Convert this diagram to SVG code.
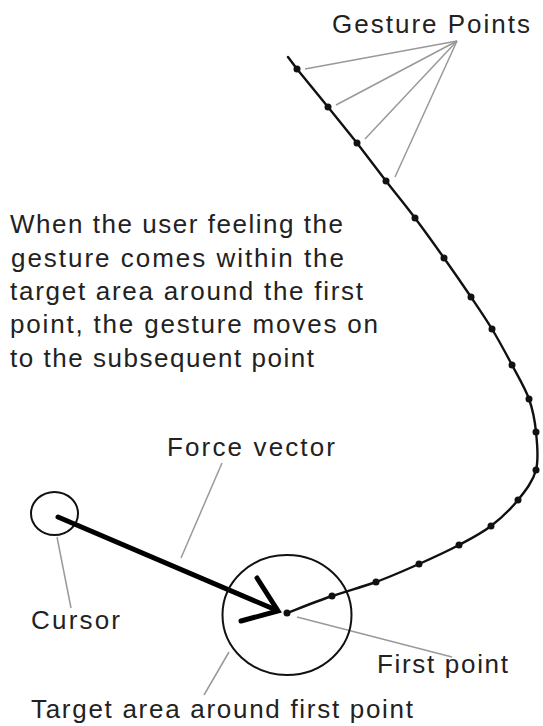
<svg xmlns="http://www.w3.org/2000/svg" width="543" height="726" viewBox="0 0 543 726">
<style>
text{font-family:"Liberation Sans",Arial,sans-serif;font-size:26px;fill:#222}
.lead{stroke:#999;stroke-width:1.5;fill:none}
.dot{fill:#111}
.outline{fill:none;stroke:#111;stroke-width:2}
</style>
<rect width="543" height="726" fill="#fff"/>
<g id="connectors">
<line class="lead" x1="457" y1="41" x2="305" y2="69"/>
<line class="lead" x1="457" y1="41" x2="336" y2="105"/>
<line class="lead" x1="457" y1="41" x2="365" y2="139"/>
<line class="lead" x1="457" y1="41" x2="395" y2="177"/>
<line class="lead" x1="222" y1="463" x2="181" y2="558"/>
<line class="lead" x1="57" y1="537" x2="71" y2="608"/>
<line class="lead" x1="297" y1="617" x2="452" y2="657"/>
<line class="lead" x1="229" y1="652" x2="204" y2="695"/>
</g>
<g id="gesture-curve">
<path fill="none" stroke="#111" stroke-width="2.4" stroke-linecap="round" d="M288,57 L297,69 L328,107 L357,143 L386,181 C395.67,193.5 405.33,205.17 415,218 C424.67,230.83 434.67,244.83 444,258 C453.33,271.17 463,285.17 471,297 C479,308.83 485.17,317.67 492,329 C498.83,340.33 505.83,353.33 512,365 C518.17,376.67 525,387.83 529,399 C533,410.17 534.83,420.17 536,432 C537.17,443.83 539,458.67 536,470 C533,481.33 525.5,490.67 518,500 C510.5,509.33 500.83,518.5 491,526 C481.17,533.5 471,538.67 459,545 C447,551.33 432.83,557.83 419,564 C405.17,570.17 390.5,576.67 376,582 C361.5,587.33 346.83,590.83 332,596 C317.17,601.17 294.5,610.17 287,613"/>
<circle class="dot" cx="297" cy="69" r="3.5"/>
<circle class="dot" cx="328" cy="107" r="3.5"/>
<circle class="dot" cx="357" cy="143" r="3.5"/>
<circle class="dot" cx="386" cy="181" r="3.5"/>
<circle class="dot" cx="415" cy="218" r="3.5"/>
<circle class="dot" cx="444" cy="258" r="3.5"/>
<circle class="dot" cx="471" cy="297" r="3.5"/>
<circle class="dot" cx="492" cy="329" r="3.5"/>
<circle class="dot" cx="512" cy="365" r="3.5"/>
<circle class="dot" cx="529" cy="399" r="3.5"/>
<circle class="dot" cx="536" cy="432" r="3.5"/>
<circle class="dot" cx="536" cy="470" r="3.5"/>
<circle class="dot" cx="518" cy="500" r="3.5"/>
<circle class="dot" cx="491" cy="526" r="3.5"/>
<circle class="dot" cx="459" cy="545" r="3.5"/>
<circle class="dot" cx="419" cy="564" r="3.5"/>
<circle class="dot" cx="376" cy="582" r="3.5"/>
<circle class="dot" cx="332" cy="596" r="3.5"/>
</g>
<g id="gesture-points-label">
<text x="332" y="33" textLength="198">Gesture Points</text>
</g>
<g id="description">
<text x="10" y="233" textLength="333">When the user feeling the</text>
<text x="11" y="267" textLength="333">gesture comes within the</text>
<text x="10" y="300" textLength="353">target area around the first</text>
<text x="10" y="333" textLength="368">point, the gesture moves on</text>
<text x="10" y="367" textLength="304">to the subsequent point</text>
</g>
<g id="cursor">
<ellipse class="outline" cx="54.5" cy="513.5" rx="23.5" ry="21.5"/>
<text x="31" y="629" textLength="89">Cursor</text>
</g>
<g id="force-vector">
<line x1="58" y1="517" x2="276" y2="610" stroke="#000" stroke-width="5" stroke-linecap="round"/>
<polyline points="257,578 278,611 241,621" fill="none" stroke="#000" stroke-width="5" stroke-linecap="round" stroke-linejoin="miter"/>
<text x="167" y="456" textLength="168">Force vector</text>
</g>
<g id="target-area">
<ellipse class="outline" cx="287" cy="615" rx="64.5" ry="60"/>
<text x="31" y="718" textLength="382">Target area around first point</text>
</g>
<g id="first-point">
<circle class="dot" cx="287" cy="613" r="3.5"/>
<text x="377" y="673" textLength="131">First point</text>
</g>
</svg>
